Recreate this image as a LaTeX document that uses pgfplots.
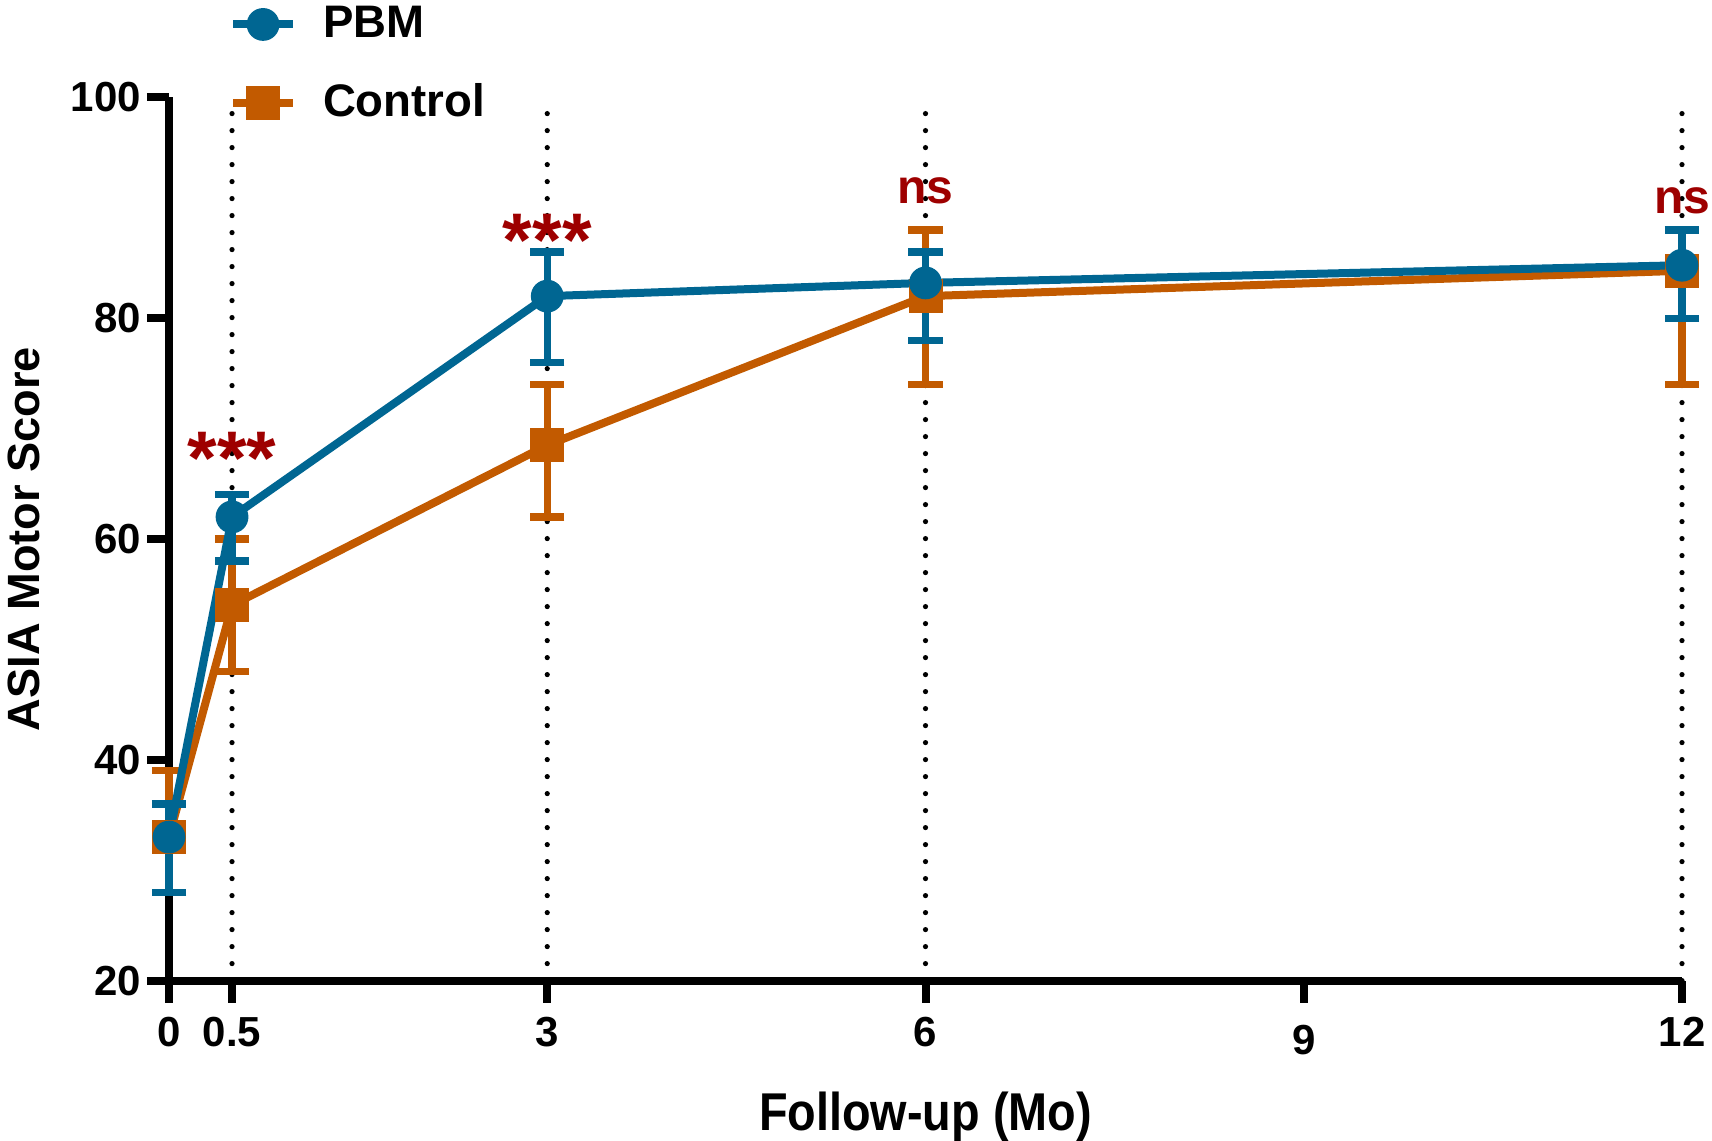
\documentclass[border=0pt]{standalone}
\usepackage{fontspec}
\setmainfont{Liberation Sans}
\newfontfamily\condensed[FakeStretch=0.88]{Liberation Sans}
\usepackage{pgfplots}
\usepackage{pgfplotstable}
\pgfplotsset{compat=1.18}
\definecolor{pbmblue}{RGB}{0,102,146}
\definecolor{ctrlorange}{RGB}{194,90,0}
\definecolor{sigred}{RGB}{158,0,0}

\pgfplotstableread{
x y ep em
0 33 3 5
0.5 62 2 4
3 82 4 6
6 83.2 2.8 5.2
12 84.8 3.2 4.8
}\pbmdata

\pgfplotstableread{
x y ep em
0 33 6 5
0.5 54 6 6
3 68.5 5.5 6.5
6 82 6 8
12 84.3 3.7 10.3
}\ctrldata

\begin{document}
\begin{tikzpicture}
\useasboundingbox (-42.25bp,-40.1bp) rectangle (385.75bp,245.15bp);
\begin{axis}[
  at={(0,0)}, anchor=south west,
  width=378.25bp, height=220.8bp, scale only axis,
  xmin=0, xmax=12, ymin=20, ymax=100,
  axis lines=left,
  axis line style={-, line width=2bp, black},
  xtick={0,0.5,3,6,9,12},
  xticklabels={0,0.5,3,6,\raisebox{-2bp}[\height][0pt]{9},12},
  ytick={20,40,60,80,100},
  tick align=outside, major tick length=5.5bp,
  tick style={line width=2bp, black},
  ticklabel style={font=\fontsize{10.5bp}{12bp}\selectfont\bfseries},
  yticklabel style={xshift=2bp},
  /pgf/number format/assume math mode=true,
  clip=false,
  xlabel={Follow-up (Mo)}, ylabel={ASIA Motor Score},
  xlabel style={font=\fontsize{13.3bp}{15bp}\selectfont\bfseries\condensed,
     at={(axis description cs:0.5,-0.1694)}, anchor=base},
  ylabel style={font=\fontsize{11.3bp}{14bp}\selectfont\bfseries,
     at={(axis description cs:-0.0853,0.5)}, anchor=base},
  reverse legend,
  legend image code/.code={\draw[mark repeat=2,mark phase=2,#1] plot coordinates {(0bp,0bp)(7.5bp,0bp)(15bp,0bp)};
     \path (20.5bp,0bp);},
  legend style={draw=none, fill=none, inner sep=0pt, outer sep=0pt,
     at={(axis description cs:0.0397,1.1083)}, anchor=north west,
     font=\fontsize{11.4bp}{13bp}\selectfont\bfseries,
     row sep=8.1bp,
     nodes={inner sep=1bp}},
  legend cell align=left,
]
% dotted reference lines
\addplot[black, line width=1.3bp, line cap=round, dash pattern=on 0bp off 4.25bp, forget plot] coordinates {(0.5,20) (0.5,100)};
\addplot[black, line width=1.3bp, line cap=round, dash pattern=on 0bp off 4.25bp, forget plot] coordinates {(3,20) (3,100)};
\addplot[black, line width=1.3bp, line cap=round, dash pattern=on 0bp off 4.25bp, forget plot] coordinates {(6,20) (6,100)};
\addplot[black, line width=1.3bp, line cap=round, dash pattern=on 0bp off 4.25bp, forget plot] coordinates {(12,20) (12,100)};

\addplot[ctrlorange, line width=2bp, mark=square*, mark size=3.75bp,
  mark options={solid, fill=ctrlorange, line width=1bp},
  error bars/.cd, y dir=both, y explicit,
  error bar style={line width=1.8bp, ctrlorange},
  error mark options={rotate=90, mark size=4.3bp, line width=1.8bp, ctrlorange}]
  table[x=x, y=y, y error plus=ep, y error minus=em]{\ctrldata};
\addlegendentry{Control}

\addplot[pbmblue, line width=2bp, mark=*, mark size=3.6bp,
  mark options={solid, fill=pbmblue, line width=1bp},
  error bars/.cd, y dir=both, y explicit,
  error bar style={line width=1.8bp, pbmblue},
  error mark options={rotate=90, mark size=4.3bp, line width=1.8bp, pbmblue}]
  table[x=x, y=y, y error plus=ep, y error minus=em]{\pbmdata};
\addlegendentry{PBM}

\node[sigred, font=\fontsize{19bp}{20bp}\selectfont\bfseries, anchor=base] at (axis cs:0.5,64.9) {***};
\node[sigred, font=\fontsize{19bp}{20bp}\selectfont\bfseries, anchor=base] at (axis cs:3,84.7) {***};
\node[sigred, font=\fontsize{12bp}{14bp}\selectfont\bfseries, anchor=base] at (axis cs:6,90.4) {ns};
\node[sigred, font=\fontsize{12bp}{14bp}\selectfont\bfseries, anchor=base] at (axis cs:12,89.5) {ns};
\end{axis}
\end{tikzpicture}
\end{document}
